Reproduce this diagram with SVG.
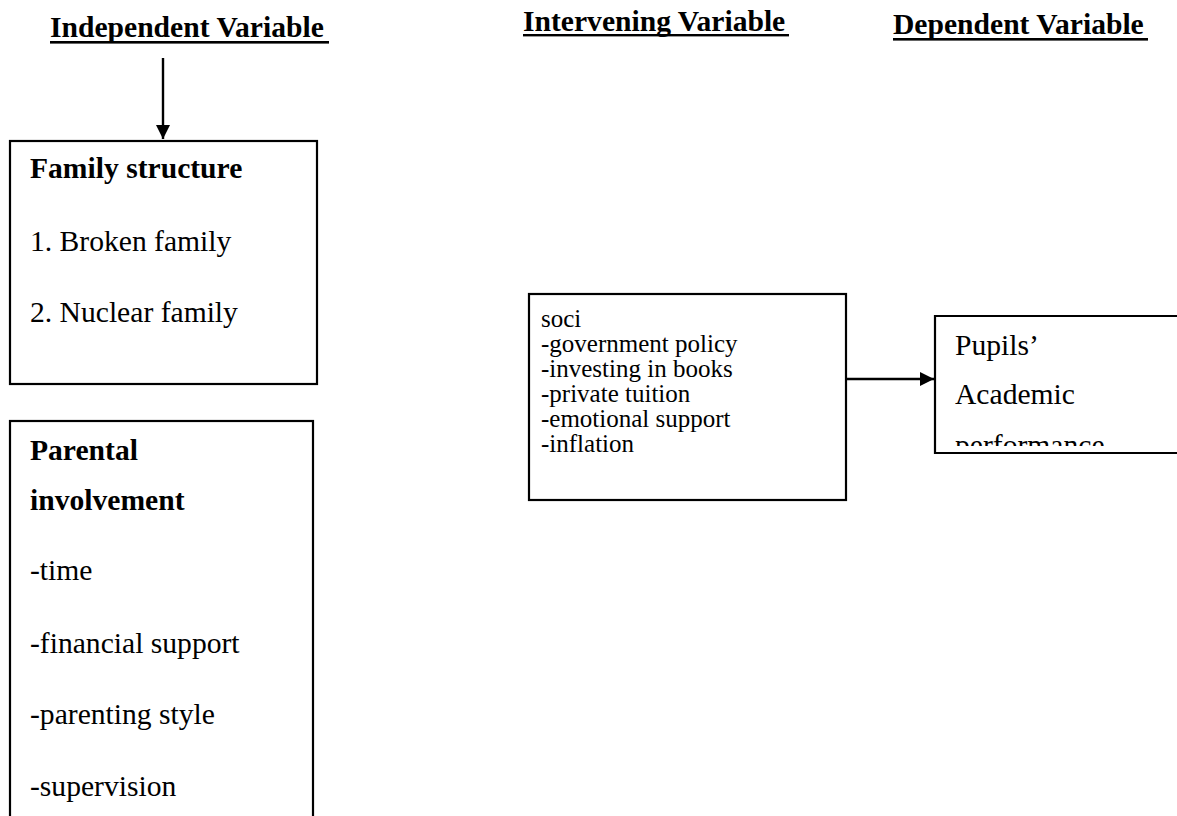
<svg xmlns="http://www.w3.org/2000/svg" width="1177" height="816" viewBox="0 0 1177 816">
<style>
.t{font-family:"Liberation Serif","Times New Roman",serif;font-size:29.6px;fill:#000}
.s{font-size:25px}
.b{font-weight:bold}
.box{fill:#fff;stroke:#000;stroke-width:2.2}
.ul{fill:#000}
.con{stroke:#000;stroke-width:2.4;fill:none}
</style>
<defs>
<marker id="ah" markerWidth="6" markerHeight="6" refX="6" refY="3" orient="auto" markerUnits="strokeWidth">
<path d="M0,0 L6,3 L0,6 Z" fill="#000"/>
</marker>
<clipPath id="depclip"><rect x="936" y="317" width="241" height="129"/></clipPath>
</defs>
<rect width="1177" height="816" fill="#fff"/>
<g id="titles">
<text class="t b" x="50" y="37">Independent Variable</text>
<rect class="ul" x="50" y="41" width="279" height="2.6"/>
<text class="t b" x="523" y="30.5">Intervening Variable</text>
<rect class="ul" x="523" y="34" width="266" height="2.4"/>
<text class="t b" x="893" y="33.5">Dependent Variable</text>
<rect class="ul" x="893" y="38" width="255" height="2.6"/>
</g>
<g id="connectors">
<line class="con" x1="163" y1="58" x2="163" y2="139" marker-end="url(#ah)"/>
<line class="con" x1="847" y1="379" x2="934" y2="379" marker-end="url(#ah)"/>
</g>
<g id="family-structure">
<rect class="box" x="10" y="141" width="307" height="243"/>
<text class="t b" x="30" y="178">Family structure</text>
<text class="t" x="30" y="250.5">1. Broken family</text>
<text class="t" x="30" y="321.5">2. Nuclear family</text>
</g>
<g id="parental-involvement">
<rect class="box" x="10" y="421" width="303" height="420"/>
<text class="t b" x="30" y="460">Parental</text>
<text class="t b" x="30" y="510">involvement</text>
<text class="t" x="30" y="580">-time</text>
<text class="t" x="30" y="652.5">-financial support</text>
<text class="t" x="30" y="723.5">-parenting style</text>
<text class="t" x="30" y="796">-supervision</text>
</g>
<g id="intervening">
<rect class="box" x="529" y="294" width="317" height="206"/>
<text class="t s" x="541" y="326.5">soci</text>
<text class="t s" x="541" y="351.5">-government policy</text>
<text class="t s" x="541" y="376.5">-investing in books</text>
<text class="t s" x="541" y="401.5">-private tuition</text>
<text class="t s" x="541" y="426.5">-emotional support</text>
<text class="t s" x="541" y="451.5">-inflation</text>
</g>
<g id="dependent">
<path class="box" d="M1180,316 L935,316 L935,453 L1180,453"/>
<text class="t" x="955" y="355">Pupils’</text>
<text class="t" x="955" y="404">Academic</text>
<text class="t" x="955" y="455" clip-path="url(#depclip)">performance</text>
</g>
</svg>
